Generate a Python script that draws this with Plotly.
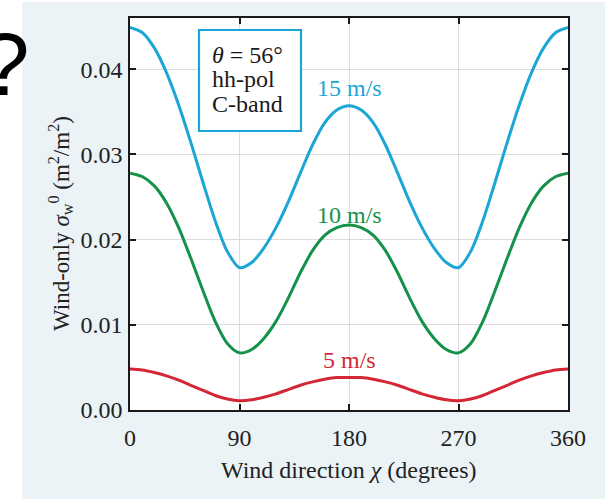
import plotly.graph_objects as go

# Wind direction samples (degrees)
chi = [0, 10, 20, 30, 40, 50, 60, 70, 80, 90, 100, 110, 120, 130, 140, 150, 160, 170, 180,
       190, 200, 210, 220, 230, 240, 250, 260, 270, 280, 290, 300, 310, 320, 330, 340, 350, 360]

# Values (m^2/m^2)
s15 = [0.0449, 0.0443, 0.0425, 0.0396, 0.0358, 0.0314, 0.0267, 0.0222, 0.0186, 0.0167,
       0.0173, 0.0190, 0.0214, 0.0244, 0.0278, 0.0311, 0.0337, 0.0352, 0.0357,
       0.0352, 0.0337, 0.0311, 0.0278, 0.0244, 0.0214, 0.0190, 0.0173, 0.0167,
       0.0186, 0.0222, 0.0267, 0.0314, 0.0358, 0.0396, 0.0425, 0.0443, 0.0449]
s10 = [0.0278, 0.0274, 0.0263, 0.0243, 0.0214, 0.0178, 0.0140, 0.0104, 0.0078, 0.0067,
       0.0071, 0.0084, 0.0104, 0.0131, 0.0161, 0.0187, 0.0205, 0.0214, 0.0217,
       0.0214, 0.0205, 0.0187, 0.0161, 0.0131, 0.0104, 0.0084, 0.0071, 0.0067,
       0.0078, 0.0104, 0.0140, 0.0178, 0.0214, 0.0243, 0.0263, 0.0274, 0.0278]
s5 = [0.0048, 0.0047, 0.0044, 0.0040, 0.0035, 0.0029, 0.0023, 0.0017, 0.0013, 0.0011,
      0.0012, 0.0015, 0.0019, 0.0024, 0.0029, 0.0033, 0.0036, 0.0038, 0.0038,
      0.0038, 0.0036, 0.0033, 0.0029, 0.0024, 0.0019, 0.0015, 0.0012, 0.0011,
      0.0013, 0.0017, 0.0023, 0.0029, 0.0035, 0.0040, 0.0044, 0.0047, 0.0048]

series_names = ["15 m/s", "10 m/s", "5 m/s"]
label_y = [0.0378, 0.0229, 0.0059]
box_lines = ["<i>θ</i> = 56°", "hh-pol", "C-band"]
xticks = [0, 90, 180, 270, 360]
yticks = [0.00, 0.01, 0.02, 0.03, 0.04]

colors = ["#1ba6d5", "#15914a", "#d42735"]
SERIF = "Liberation Serif, Times New Roman, serif"
PANEL = "#ebf3f7"
TXT = "#222222"
FS = 24

# plot-area geometry (pixels) used to place decorations
L, R, T, B = 130, 568, 18, 410
def px(xp):
    return (xp - L) / (R - L)
def py(yp):
    return (B - yp) / (B - T)

fig = go.Figure()
for vals, name, col in zip([s15, s10, s5], series_names, colors):
    fig.add_trace(go.Scatter(x=chi, y=vals, mode="lines", name=name,
                             line=dict(color=col, width=3, shape="spline", smoothing=0.8),
                             showlegend=False, hoverinfo="skip"))

for name, yv, col in zip(series_names, label_y, colors):
    fig.add_annotation(x=180, y=yv, text=name, showarrow=False,
                       font=dict(family=SERIF, size=FS, color=col),
                       xanchor="center", yanchor="middle")

# info box
fig.add_shape(type="rect", xref="paper", yref="paper",
              x0=px(199), x1=px(301), y0=py(131), y1=py(30),
              fillcolor="white", line=dict(color="#1ba6d5", width=2.2))
for i, t in enumerate(box_lines):
    fig.add_annotation(xref="paper", yref="paper", x=px(210), y=py(55 + 24.5 * i),
                       text=t, showarrow=False, xanchor="left", yanchor="middle",
                       font=dict(family=SERIF, size=FS, color="#1a1a1a"))

# y-axis title placed as rotated text
fig.add_annotation(xref="paper", yref="paper", x=px(60), y=py(224),
                   text="Wind-only <i>σ</i><sub>w</sub><sup>0</sup> (m<sup>2</sup>/m<sup>2</sup>)",
                   textangle=-90, showarrow=False, xanchor="center", yanchor="middle",
                   font=dict(family=SERIF, size=23, color=TXT))

# x-axis title placed as text
fig.add_annotation(xref="paper", yref="paper", x=px(349), y=py(470),
                   text="Wind direction <i>χ</i> (degrees)",
                   showarrow=False, xanchor="center", yanchor="middle",
                   font=dict(family=SERIF, size=FS, color=TXT))

# white strip at left/top edge and the big question mark
fig.add_shape(type="rect", xref="paper", yref="paper",
              x0=px(-5), x1=px(22), y0=-0.3, y1=1.1,
              fillcolor="white", line=dict(width=0), layer="below")
fig.add_shape(type="rect", xref="paper", yref="paper",
              x0=px(-5), x1=px(610), y0=py(2), y1=py(-5),
              fillcolor="white", line=dict(width=0), layer="below")
fig.add_annotation(xref="paper", yref="paper",
                   x=px(32), y=py(64),
                   text="?", showarrow=False, xanchor="right", yanchor="middle",
                   font=dict(family="Liberation Sans, Arial, sans-serif", size=89, color="black"))

axis_common = dict(showline=True, linecolor="#1a1a1a", linewidth=1.5, mirror="ticks",
                   ticks="inside", ticklen=6, tickwidth=1.5, tickcolor="#1a1a1a",
                   showgrid=True, gridcolor="#dcdcdc", gridwidth=1, zeroline=False,
                   tickfont=dict(family=SERIF, size=FS, color=TXT))

fig.update_xaxes(range=[0, 360], tickvals=xticks, ticktext=[str(v) for v in xticks],
                 ticklabelstandoff=5, **axis_common)
fig.update_yaxes(range=[0, 0.046], tickvals=yticks, ticktext=[f"{v:.2f}" for v in yticks],
                 ticklabelstandoff=1, **axis_common)

fig.update_layout(width=605, height=499,
                  margin=dict(l=L, r=605 - R, t=T, b=499 - B),
                  paper_bgcolor=PANEL, plot_bgcolor="white")

fig.write_html("out.html", config={"displayModeBar": False},
               post_script=("document.body.style.margin='0';"
                            "document.body.style.overflow='hidden';"
                            "document.body.style.background='" + PANEL + "';"
                            "document.documentElement.style.background='" + PANEL + "';"))
